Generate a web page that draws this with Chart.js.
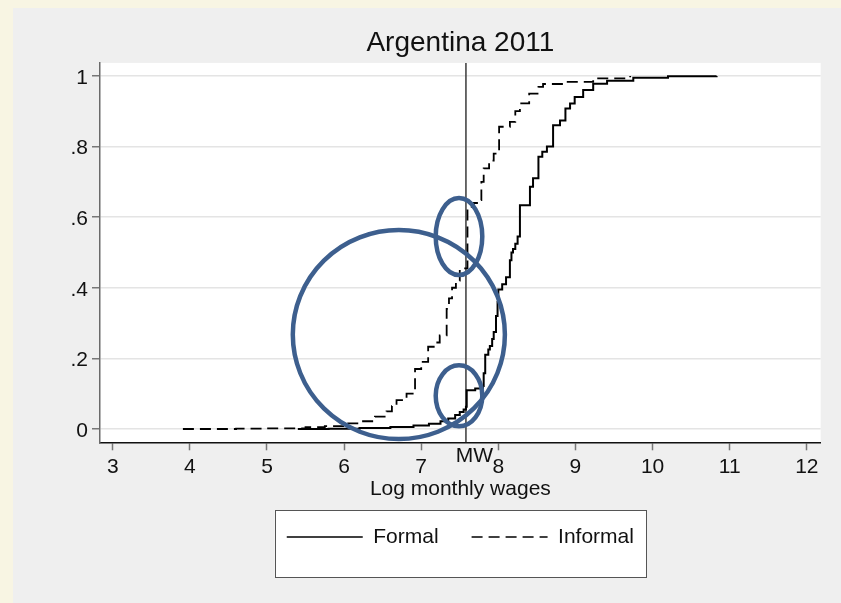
<!DOCTYPE html>
<html><head><meta charset="utf-8">
<script src="https://cdn.jsdelivr.net/npm/chart.js@4.4.0/dist/chart.umd.min.js"></script>
<style>html,body{margin:0;padding:0;background:#f8f5e3;} canvas{display:block;}</style>
</head><body>
<canvas id="c" width="841" height="603" style="width:841px;height:603px"></canvas>
<script>
const titleText = 'Argentina 2011';
const xAxisTitle = 'Log monthly wages';
const seriesNames = ['Formal', 'Informal'];
const xTickValues = [3, 4, 5, 6, 7, 8, 9, 10, 11, 12];
const yTickValues = [0, 0.2, 0.4, 0.6, 0.8, 1];
const yTickLabels = ['0', '.2', '.4', '.6', '.8', '1'];
const xMin = 2.835, xMax = 12.18, yMin = -0.0376, yMax = 1.0368;

const wageFormal = [5.40, 5.80, 6.20, 6.60, 6.90, 7.10, 7.25, 7.35, 7.44, 7.50, 7.55, 7.58, 7.59, 7.70, 7.80, 7.81, 7.83, 7.87, 7.89, 7.92, 7.94, 7.97, 7.99, 8.00, 8.05, 8.10, 8.15, 8.17, 8.19, 8.22, 8.25, 8.28, 8.41, 8.45, 8.52, 8.57, 8.63, 8.71, 8.80, 8.87, 8.93, 8.99, 9.10, 9.23, 9.41, 9.75, 10.20, 10.83];
const cdfFormal  = [0.000, 0.001, 0.003, 0.006, 0.010, 0.015, 0.022, 0.030, 0.040, 0.048, 0.055, 0.063, 0.110, 0.115, 0.122, 0.158, 0.210, 0.225, 0.235, 0.255, 0.275, 0.320, 0.360, 0.395, 0.410, 0.430, 0.478, 0.500, 0.510, 0.525, 0.545, 0.634, 0.686, 0.710, 0.771, 0.785, 0.800, 0.860, 0.874, 0.908, 0.922, 0.940, 0.960, 0.978, 0.986, 0.995, 0.999, 1.000];

const wageInformal = [3.91, 4.60, 5.00, 5.50, 5.75, 6.03, 6.21, 6.40, 6.55, 6.62, 6.68, 6.81, 6.92, 7.00, 7.09, 7.18, 7.24, 7.33, 7.36, 7.40, 7.45, 7.50, 7.60, 7.68, 7.74, 7.78, 7.81, 7.88, 7.94, 8.01, 8.15, 8.22, 8.28, 8.40, 8.52, 8.58, 8.84, 9.23, 9.71];
const cdfInformal  = [0.000, 0.001, 0.002, 0.005, 0.008, 0.016, 0.022, 0.035, 0.050, 0.065, 0.082, 0.100, 0.170, 0.190, 0.233, 0.245, 0.265, 0.340, 0.370, 0.400, 0.420, 0.455, 0.629, 0.640, 0.648, 0.700, 0.738, 0.760, 0.780, 0.856, 0.870, 0.900, 0.922, 0.950, 0.969, 0.977, 0.983, 0.993, 1.000];

const minWage = 7.58;
const minWageLabel = 'MW';

// highlight ellipses (data units): centre x, centre y, radius x, radius y
const ellipseCX = [6.71, 7.49, 7.49];
const ellipseCY = [0.2675, 0.545, 0.094];
const ellipseRX = [1.375, 0.302, 0.302];
const ellipseRY = [0.296, 0.109, 0.0863];

const FONT = '"Liberation Sans", Arial, sans-serif';

const pts = (xs, ys) => xs.map((x, i) => ({x: x, y: ys[i]}));

const bgPlugin = {
  id: 'bg',
  beforeDraw(chart) {
    const ctx = chart.ctx, a = chart.chartArea;
    ctx.save();
    ctx.fillStyle = '#f8f5e3';
    ctx.fillRect(0, 0, chart.width, chart.height);
    ctx.fillStyle = '#efefef';
    ctx.fillRect(13, 8, chart.width - 13, chart.height - 8);
    ctx.fillStyle = '#ffffff';
    ctx.fillRect(a.left, a.top, a.right - a.left, a.bottom - a.top);
    const hb = chart.legend && chart.legend.legendHitBoxes;
    if (hb && hb.length) {
      const l = Math.min(...hb.map(h => h.left)) - 12;
      const r = Math.max(...hb.map(h => h.left + h.width)) + 12;
      const t = hb[0].top - 16.5;
      ctx.fillStyle = '#ffffff';
      ctx.fillRect(l, t, r - l, 67);
      ctx.strokeStyle = '#555555';
      ctx.lineWidth = 1;
      ctx.strokeRect(Math.round(l) + 0.5, Math.round(t) + 0.5, Math.round(r - l), 67);
    }
    ctx.restore();
  },
  afterDatasetsDraw(chart) {
    const ctx = chart.ctx, xs = chart.scales.x, ys = chart.scales.y;
    ctx.save();
    ctx.strokeStyle = '#3d5f8e';
    ctx.lineWidth = 4.5;
    for (let i = 0; i < ellipseCX.length; i++) {
      const cx = xs.getPixelForValue(ellipseCX[i]);
      const cy = ys.getPixelForValue(ellipseCY[i]);
      const rx = Math.abs(xs.getPixelForValue(ellipseCX[i] + ellipseRX[i]) - cx);
      const ry = Math.abs(ys.getPixelForValue(ellipseCY[i] + ellipseRY[i]) - cy);
      ctx.beginPath();
      ctx.ellipse(cx, cy, rx, ry, 0, 0, Math.PI * 2);
      ctx.stroke();
    }
    ctx.restore();
  },
  afterDraw(chart) {
    const ctx = chart.ctx, xs = chart.scales.x;
    ctx.save();
    ctx.fillStyle = '#111111';
    ctx.font = '21px ' + FONT;
    ctx.textAlign = 'center';
    ctx.textBaseline = 'middle';
    ctx.fillText(minWageLabel, xs.getPixelForValue(minWage) + 8.5, xs.top + 14.4);
    ctx.restore();
  }
};

new Chart(document.getElementById('c'), {
  type: 'line',
  data: {
    datasets: [
      {label: seriesNames[0], data: pts(wageFormal, cdfFormal), borderColor: '#000000', borderWidth: 2, stepped: true, pointRadius: 0, fill: false, order: 1},
      {label: seriesNames[1], data: pts(wageInformal, cdfInformal), borderColor: '#000000', borderWidth: 1.8, borderDash: [11, 6], stepped: true, pointRadius: 0, fill: false, order: 2},
      {label: minWageLabel, data: [{x: minWage, y: yMin}, {x: minWage, y: yMax}], borderColor: '#3a3a3a', borderWidth: 1.5, pointRadius: 0, fill: false, order: 3}
    ]
  },
  options: {
    responsive: false,
    animation: false,
    devicePixelRatio: 1,
    layout: {padding: {left: 0, right: 20.3, top: 0, bottom: 45.5}},
    plugins: {
      title: {display: true, text: titleText, fullSize: false, color: '#111111', font: {family: FONT, size: 28, weight: 'normal'}, padding: {top: 26.4, bottom: 2.9}},
      legend: {
        display: true, position: 'bottom', fullSize: false,
        labels: {
          usePointStyle: true, pointStyle: 'line', pointStyleWidth: 76, boxWidth: 76,
          padding: 33, color: '#111111', font: {family: FONT, size: 21},
          filter: item => item.datasetIndex < 2,
          generateLabels: chart => Chart.defaults.plugins.legend.labels.generateLabels(chart).map(it => {
            const ds = chart.data.datasets[it.datasetIndex];
            it.lineDash = ds.borderDash || [];
            it.lineWidth = 1.5;
            it.strokeStyle = ds.borderColor;
            return it;
          })
        }
      },
      tooltip: {enabled: false}
    },
    scales: {
      x: {
        type: 'linear', min: xMin, max: xMax,
        afterBuildTicks: s => { s.ticks = xTickValues.map(v => ({value: v})); },
        afterFit: s => { s.height = 51.2; },
        ticks: {callback: v => String(v), color: '#111111', font: {family: FONT, size: 21}, padding: 4, maxRotation: 0, autoSkip: false},
        grid: {drawOnChartArea: false, drawTicks: true, tickLength: 8, tickColor: '#777777', tickWidth: 1.5},
        border: {color: '#111111', width: 1.5},
        title: {display: true, text: xAxisTitle, color: '#111111', font: {family: FONT, size: 21}, padding: {top: 0, bottom: -8.5}}
      },
      y: {
        type: 'linear', min: yMin, max: yMax,
        afterBuildTicks: s => { s.ticks = yTickValues.map(v => ({value: v})); },
        afterFit: s => { s.width = 100; },
        ticks: {callback: (v, i) => yTickLabels[i], color: '#111111', font: {family: FONT, size: 21}, padding: 4, autoSkip: false, labelOffset: 2},
        grid: {color: '#e4e4e4', lineWidth: 1.5, tickLength: 8, tickColor: '#777777', tickWidth: 1.5},
        border: {color: '#6a6a6a', width: 1.5}
      }
    }
  },
  plugins: [bgPlugin]
});
</script>
</body></html>
